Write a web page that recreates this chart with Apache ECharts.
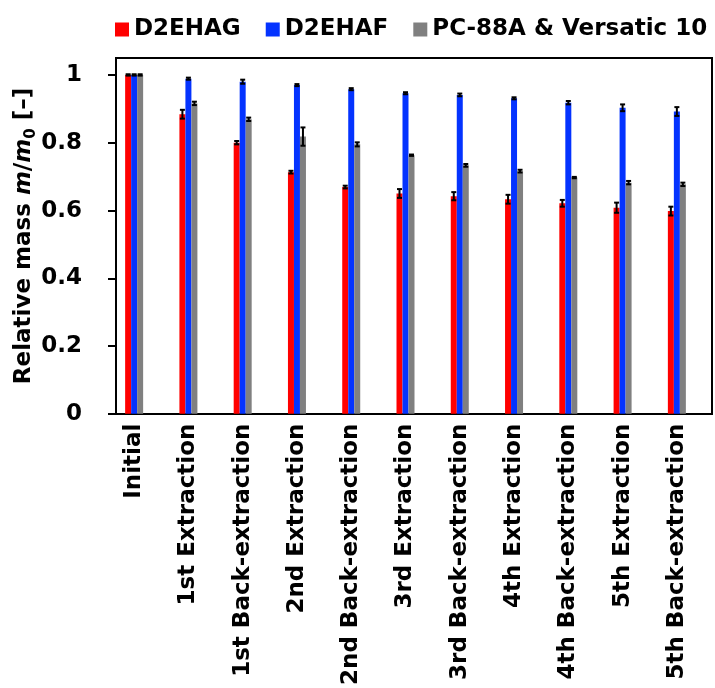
<!DOCTYPE html>
<html>
<head>
<meta charset="utf-8">
<script src="https://cdn.jsdelivr.net/npm/echarts@6/dist/echarts.min.js"></script>
<style>
  html, body { margin: 0; padding: 0; background: #fff; }
  #chart { width: 715px; height: 688px; }
</style>
</head>
<body>
<div id="chart"></div>
<script>
const categories = ['Initial', '1st Extraction', '1st Back-extraction', '2nd Extraction', '2nd Back-extraction',
  '3rd Extraction', '3rd Back-extraction', '4th Extraction', '4th Back-extraction', '5th Extraction', '5th Back-extraction']
const seriesNames = ['D2EHAG', 'D2EHAF', 'PC-88A & Versatic 10']
const d2ehag = [1.0, 0.884, 0.800, 0.713, 0.669, 0.650, 0.642, 0.633, 0.621, 0.608, 0.598]
const d2ehagErr = [0.002, 0.013, 0.005, 0.004, 0.004, 0.013, 0.012, 0.013, 0.010, 0.015, 0.013]
const d2ehaf = [1.0, 0.989, 0.980, 0.970, 0.958, 0.946, 0.941, 0.931, 0.918, 0.903, 0.892]
const d2ehafErr = [0.002, 0.003, 0.006, 0.003, 0.003, 0.003, 0.004, 0.003, 0.005, 0.010, 0.013]
const pc88a = [1.0, 0.916, 0.869, 0.818, 0.795, 0.763, 0.733, 0.716, 0.697, 0.682, 0.677]
const pc88aErr = [0.002, 0.005, 0.005, 0.027, 0.006, 0.002, 0.004, 0.004, 0.002, 0.005, 0.005]
const yTicks = [0, 0.2, 0.4, 0.6, 0.8, 1]

const FONT = 'DejaVu Sans'
const colors = ['#ff0000', '#0433ff', '#808080']
const barWidth = 6

function errorData(values, errs) {
  return values.map((v, i) => [i, v - errs[i], v + errs[i]])
}

function errorBarItem(offset) {
  return function (params, api) {
    const lo = api.coord([api.value(0), api.value(1)])
    const hi = api.coord([api.value(0), api.value(2)])
    const cx = lo[0] + offset
    const cap = 2.5
    const style = { stroke: '#000', lineWidth: 2 }
    return {
      type: 'group',
      children: [
        { type: 'line', shape: { x1: cx, y1: hi[1], x2: cx, y2: lo[1] }, style },
        { type: 'line', shape: { x1: cx - cap, y1: hi[1], x2: cx + cap, y2: hi[1] }, style },
        { type: 'line', shape: { x1: cx - cap, y1: lo[1], x2: cx + cap, y2: lo[1] }, style }
      ]
    }
  }
}

const values = [d2ehag, d2ehaf, pc88a]
const errs = [d2ehagErr, d2ehafErr, pc88aErr]

const barSeries = seriesNames.map((name, k) => ({
  name,
  type: 'bar',
  xAxisIndex: 0,
  yAxisIndex: 0,
  data: values[k],
  barWidth,
  barGap: '0%',
  itemStyle: { color: colors[k] },
  animation: false
}))

const errSeries = seriesNames.map((name, k) => ({
  type: 'custom',
  xAxisIndex: 0,
  yAxisIndex: 0,
  renderItem: errorBarItem((k - 1) * barWidth),
  encode: { x: 0, y: [1, 2] },
  data: errorData(values[k], errs[k]),
  z: 5,
  animation: false
}))

const chart = echarts.init(document.getElementById('chart'))
chart.setOption({
  backgroundColor: '#fff',
  animation: false,
  legend: {
    data: seriesNames,
    left: 110,
    top: 13,
    icon: 'rect',
    itemWidth: 14,
    itemHeight: 14,
    itemGap: 25,
    textStyle: { fontFamily: FONT, fontWeight: 'bold', fontSize: 23, color: '#000' }
  },
  grid: [
    // data grid: category bands line up with the bar groups
    { left: 107, right: 11, top: 58, bottom: 274 },
    // frame grid
    { left: 116, right: 3, top: 58, bottom: 274, show: true, borderColor: '#000', borderWidth: 2, backgroundColor: 'transparent' }
  ],
  xAxis: [
    {
      type: 'category',
      gridIndex: 0,
      data: categories,
      axisLine: { show: false },
      axisTick: { show: false },
      axisLabel: {
        rotate: 90,
        margin: 10,
        interval: 0,
        color: '#000',
        fontFamily: FONT,
        fontWeight: 'bold',
        fontSize: 23
      }
    },
    { type: 'value', gridIndex: 1, show: false }
  ],
  yAxis: [
    { type: 'value', gridIndex: 0, min: 0, max: 1.05, show: false },
    {
      type: 'value',
      gridIndex: 1,
      min: 0,
      max: 1.05,
      name: '{b|Relative mass }{i|m}{b|/}{i|m}{s|0}{b| [–]}',
      nameLocation: 'middle',
      nameRotate: 90,
      nameGap: 80,
      nameMoveOverlap: false,
      nameTextStyle: {
        rich: {
          b: { fontFamily: FONT, fontWeight: 'bold', fontSize: 23, color: '#000', lineHeight: 28, verticalAlign: 'bottom' },
          i: { fontFamily: FONT, fontWeight: 'bold', fontStyle: 'italic', fontSize: 23, color: '#000', lineHeight: 28, verticalAlign: 'bottom' },
          s: { fontFamily: FONT, fontWeight: 'bold', fontSize: 15, color: '#000', lineHeight: 28, verticalAlign: 'bottom', padding: [0, 0, -3, 0] }
        }
      },
      axisLine: { show: true, lineStyle: { color: '#000', width: 2 } },
      axisTick: { show: true, inside: false, length: 8, lineStyle: { color: '#000', width: 2 }, customValues: yTicks },
      axisLabel: {
        margin: 34,
        color: '#000',
        fontFamily: FONT,
        fontWeight: 'bold',
        fontSize: 23,
        customValues: yTicks
      },
      splitLine: { show: false }
    }
  ],
  series: barSeries.concat(errSeries)
})
</script>
</body>
</html>
